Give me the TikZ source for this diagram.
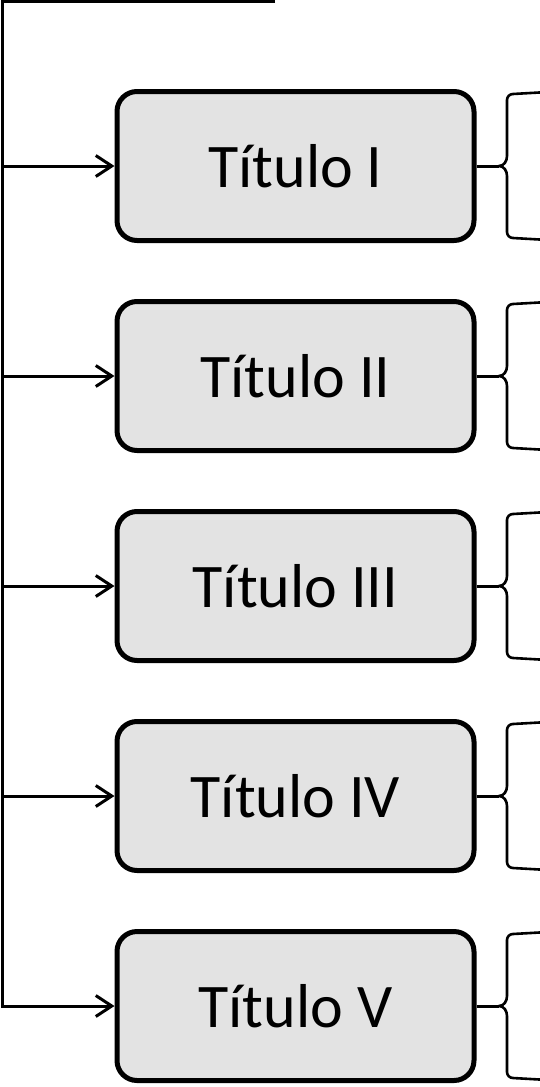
\documentclass[tikz,border=0pt]{standalone}
\usepackage{fontspec}
\setmainfont{Carlito}
\usetikzlibrary{arrows.meta,calc}
\definecolor{boxgray}{HTML}{E3E3E3}
\begin{document}
\begin{tikzpicture}[x=1pt,y=-1pt,
  titlebox/.style={draw, line width=5pt, fill=boxgray, rounded corners=20pt,
    minimum width=357pt, minimum height=149pt, inner sep=0pt,
    font=\fontsize{62}{74}\selectfont},
  conn/.style={line width=3pt},
  feed/.style={conn, -{Straight Barb[length=16pt,width=21pt]}},
  bracestyle/.style={line width=2.6pt, line join=round}
]
\useasboundingbox (0,0) rectangle (540,1087);
\foreach \i/\t in {1/I,2/II,3/III,4/IV,5/V}{
  \pgfmathsetmacro\c{166+210*(\i-1)}
  \node[titlebox] (b\i) at (295.5,\c) {Título \t};
  \coordinate (tip\i) at (499,\c);
  \draw[bracestyle] (548,\c-74) -- (513,\c-72) to[out=180,in=90] (507,\c-66)
     -- (507,\c-10) to[out=-90,in=0] (tip\i) to[out=0,in=90] (507,\c+10)
     -- (507,\c+66) to[out=-90,in=180] (513,\c+72) -- (548,\c+74);
  \draw[conn] (b\i.east) -- (tip\i);
}
\coordinate (ts) at (275,1);
\coordinate (tc) at (2.5,1);
\draw[feed] (ts) -- (tc) |- (b5.west);
\foreach \i in {1,2,3,4}{
  \draw[feed] (b\i.west -| tc) -- (b\i.west);
}
\end{tikzpicture}
\end{document}
